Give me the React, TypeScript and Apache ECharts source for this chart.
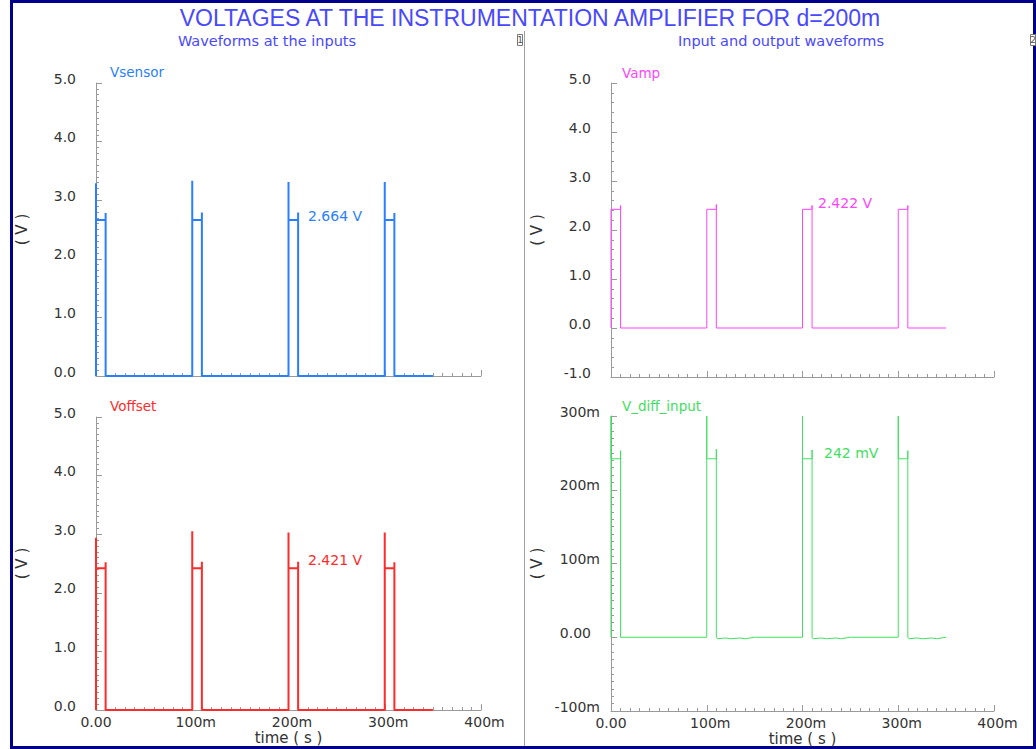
import React, { useEffect, useRef } from "react";
import * as echarts from "echarts";

// ---- data (times in ms, values in V) ----
const timeTicksMs = [0, 100, 200, 300, 400];
const pulseStartMs = [0, 100, 200, 300];
const pulseWidthMs = 10;
const traceEndMs = 350;

const vsensorLevel = 2.664;
const vsensorRisePeak = [3.29, 3.33, 3.31, 3.31];
const vsensorFallPeak = [2.78, 2.79, 2.79, 2.78];

const voffsetLevel = 2.421;
const voffsetRisePeak = [2.94, 3.05, 3.03, 3.03];
const voffsetFallPeak = [2.52, 2.53, 2.53, 2.52];

const vampLevel = 2.422;
const vampRisePeak = [2.422, 2.422, 2.422, 2.422];
const vampFallPeak = [2.5, 2.52, 2.5, 2.5];

const vdiffLevel = 0.242;
const vdiffRisePeak = [0.3, 0.3, 0.3, 0.3];
const vdiffFallPeak = [0.253, 0.255, 0.254, 0.253];
const vdiffTailOffsetMs = [1, 10, 15, 25, 30, 40];
const vdiffTailValue = [-0.002, -0.001, -0.002, -0.001, -0.002, 0];

const FONT = "'DejaVu Sans', sans-serif";
const TITLE_FONT = "'Liberation Sans', Arial, sans-serif";
const AXIS_GRAY = "#9a9a9a";
const LABEL_DARK = "#333333";
const TITLE_BLUE = "#4848ff";
const C_SENSOR = "#2a7fff";
const C_OFFSET = "#ff2a2a";
const C_AMP = "#ff44ff";
const C_DIFF = "#40e060";

function buildWave(level: number, rise: number[], fall: number[], withTail: boolean) {
  const pts: number[][] = [];
  pulseStartMs.forEach((s, i) => {
    const e = s + pulseWidthMs;
    pts.push([s, 0], [s, rise[i]], [s, level], [e, level], [e, fall[i]], [e, 0]);
    if (withTail && i > 0) {
      vdiffTailOffsetMs.forEach((o, k) => pts.push([e + o, vdiffTailValue[k]]));
    }
  });
  pts.push([traceEndMs, 0]);
  return pts;
}

const grids = [
  { left: 96, top: 83, width: 385, height: 293 },
  { left: 96, top: 417, width: 385, height: 293 },
  { left: 611, top: 83, width: 383, height: 294 },
  { left: 611, top: 416, width: 383, height: 295 },
];

function xAxisFor(gridIndex: number, showLabels: boolean) {
  return {
    type: "value",
    gridIndex,
    min: timeTicksMs[0],
    max: timeTicksMs[timeTicksMs.length - 1],
    interval: 100,
    name: showLabels ? "time ( s )" : "",
    nameLocation: "middle",
    nameGap: 20,
    nameTextStyle: { color: LABEL_DARK, fontSize: 15, fontFamily: FONT },
    axisLine: { show: true, onZero: false, lineStyle: { color: AXIS_GRAY, width: 1 } },
    axisTick: { show: true, inside: true, length: 6, lineStyle: { color: AXIS_GRAY } },
    minorTick: { show: true, splitNumber: 10, length: 3, lineStyle: { color: AXIS_GRAY } },
    splitLine: { show: false },
    axisLabel: {
      show: showLabels,
      margin: 5,
      color: LABEL_DARK,
      fontSize: 14,
      fontFamily: FONT,
      formatter: (v: number) => (v === 0 ? "{z|0.00}" : "{a|" + Math.round(v) + "m}"),
      rich: {
        z: { color: LABEL_DARK, fontSize: 14, fontFamily: FONT },
        a: { color: LABEL_DARK, fontSize: 14, fontFamily: FONT, padding: [0, 0, 0, 7] },
      },
    },
  };
}

function yAxisFor(gridIndex: number, min: number, max: number, interval: number, minor: number, fmt: (v: number) => string, margin: number) {
  return {
    type: "value",
    gridIndex,
    min,
    max,
    interval,
    name: "( V )",
    nameLocation: "middle",
    nameRotate: 90,
    nameGap: 67,
    nameTextStyle: { color: LABEL_DARK, fontSize: 15, fontFamily: FONT },
    axisLine: { show: true, onZero: false, lineStyle: { color: AXIS_GRAY, width: 1 } },
    axisTick: { show: true, inside: true, length: 6, lineStyle: { color: AXIS_GRAY } },
    minorTick: { show: true, splitNumber: minor, length: 3, lineStyle: { color: AXIS_GRAY } },
    splitLine: { show: false },
    axisLabel: {
      color: LABEL_DARK,
      fontSize: 14,
      fontFamily: FONT,
      margin,
      align: "right",
      verticalAlign: "bottom",
      lineHeight: 9,
      formatter: fmt,
      rich: {
        z: { color: LABEL_DARK, fontSize: 14, fontFamily: FONT, lineHeight: 9, padding: [0, 9, 0, 0] },
      },
    },
  };
}

const fmtV = (v: number) => v.toFixed(1);
const fmtMV = (v: number) => (Math.abs(v) < 1e-9 ? "{z|0.00}" : Math.round(v * 1000) + "m");

export default function App() {
  const ref = useRef<HTMLDivElement>(null);
  useEffect(() => {
    if (!ref.current) return;
    const chart = echarts.init(ref.current, undefined, { renderer: "svg" });
    const txt = (text: string, x: number, y: number, color: string, size: number, align = "left", font = FONT) => ({
      type: "text",
      x,
      y,
      style: { text, fill: color, fontSize: size, fontFamily: font, align, verticalAlign: "middle" },
    });
    chart.setOption({
      animation: false,
      backgroundColor: "#ffffff",
      grid: grids,
      xAxis: [xAxisFor(0, false), xAxisFor(1, true), xAxisFor(2, false), xAxisFor(3, true)],
      yAxis: [
        yAxisFor(0, 0, 5, 1, 10, fmtV, 20),
        yAxisFor(1, 0, 5, 1, 10, fmtV, 20),
        yAxisFor(2, -1, 5, 1, 5, fmtV, 20),
        yAxisFor(3, -0.1, 0.3, 0.1, 10, fmtMV, 11),
      ],
      series: [
        { name: "Vsensor", type: "line", xAxisIndex: 0, yAxisIndex: 0, symbol: "none", lineStyle: { color: C_SENSOR, width: 2 }, itemStyle: { color: C_SENSOR }, data: buildWave(vsensorLevel, vsensorRisePeak, vsensorFallPeak, false) },
        { name: "Voffset", type: "line", xAxisIndex: 1, yAxisIndex: 1, symbol: "none", lineStyle: { color: C_OFFSET, width: 2 }, itemStyle: { color: C_OFFSET }, data: buildWave(voffsetLevel, voffsetRisePeak, voffsetFallPeak, false) },
        { name: "Vamp", type: "line", xAxisIndex: 2, yAxisIndex: 2, symbol: "none", lineStyle: { color: C_AMP, width: 1 }, itemStyle: { color: C_AMP }, data: buildWave(vampLevel, vampRisePeak, vampFallPeak, false) },
        { name: "V_diff_input", type: "line", xAxisIndex: 3, yAxisIndex: 3, symbol: "none", lineStyle: { color: C_DIFF, width: 1 }, itemStyle: { color: C_DIFF }, data: buildWave(vdiffLevel, vdiffRisePeak, vdiffFallPeak, true) },
      ],
      graphic: [
        { type: "rect", shape: { x: 11.5, y: 1.5, width: 1023, height: 746 }, style: { fill: "none", stroke: "#00008b", lineWidth: 3 } },
        { type: "line", shape: { x1: 524.5, y1: 31, x2: 524.5, y2: 746 }, style: { stroke: "#a0a0a0", lineWidth: 1 } },
        { type: "rect", shape: { x: 517.5, y: 34.5, width: 5, height: 11 }, style: { fill: "#ffffff", stroke: "#777777", lineWidth: 1 } },
        txt("1", 520, 40, "#555555", 9, "center"),
        { type: "rect", shape: { x: 1030.5, y: 34.5, width: 5, height: 11 }, style: { fill: "#ffffff", stroke: "#777777", lineWidth: 1 } },
        txt("2", 1033, 40, "#555555", 9, "center"),
        txt("VOLTAGES AT THE INSTRUMENTATION AMPLIFIER FOR d=200m", 530, 18, TITLE_BLUE, 23, "center", TITLE_FONT),
        txt("Waveforms at the inputs", 267, 41, TITLE_BLUE, 14.5, "center"),
        txt("Input and output waveforms", 781, 41, TITLE_BLUE, 14.5, "center"),
        txt("Vsensor", 110, 72, C_SENSOR, 13.5),
        txt("Voffset", 110, 406, C_OFFSET, 13.5),
        txt("Vamp", 622, 73, C_AMP, 13.5),
        txt("V_diff_input", 622, 406, C_DIFF, 13.5),
        txt(vsensorLevel.toFixed(3) + " V", 308, 216, C_SENSOR, 14),
        txt(voffsetLevel.toFixed(3) + " V", 308, 560, C_OFFSET, 14),
        txt(vampLevel.toFixed(3) + " V", 818, 203, C_AMP, 14),
        txt(Math.round(vdiffLevel * 1000) + " mV", 824, 453, C_DIFF, 14),
      ],
    });
    return () => chart.dispose();
  }, []);
  return <div ref={ref} style={{ position: "fixed", left: 0, top: 0, width: 1036, height: 749 }} />;
}
